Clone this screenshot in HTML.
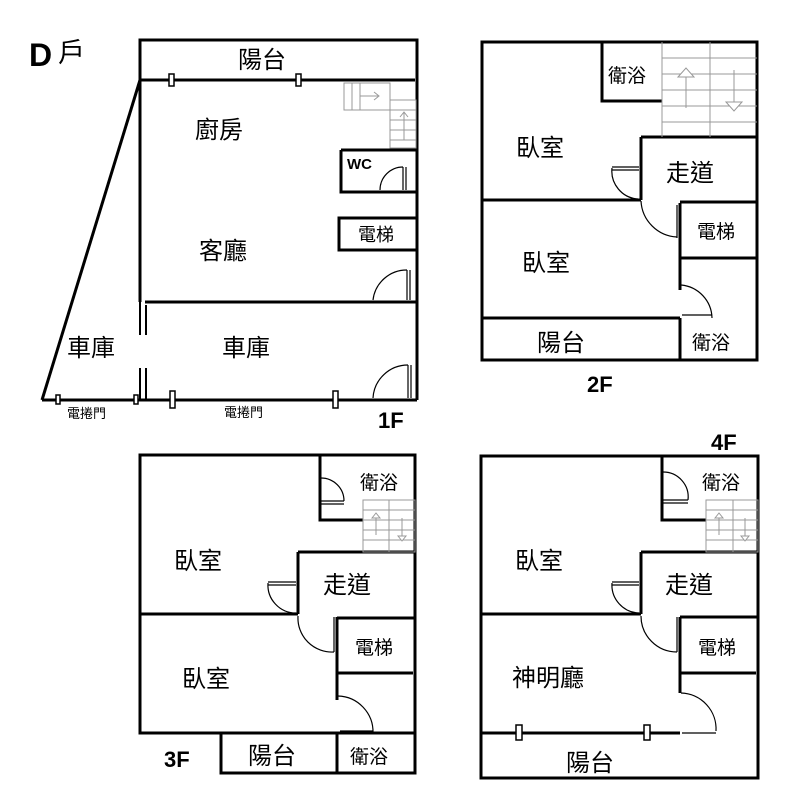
<!DOCTYPE html>
<html><head><meta charset="utf-8"><style>
body{margin:0;background:#fff}
svg text{font-family:"Liberation Sans","Noto Sans CJK TC",sans-serif;fill:#000}
.c{font-size:24px}
</style></head><body>
<svg width="800" height="800" viewBox="0 0 800 800" xmlns="http://www.w3.org/2000/svg">
<rect width="800" height="800" fill="#fff"/>
<g stroke="#000" stroke-width="3" fill="none">
<polyline points="140,80 140,40 417,40 417,400"/>
<line x1="140" y1="80" x2="415" y2="80"/>
<line x1="140" y1="80" x2="42" y2="400"/>
<line x1="42" y1="400" x2="417" y2="400"/>
<line x1="140" y1="80" x2="140" y2="302"/>
<line x1="145" y1="302" x2="417" y2="302"/>
<line x1="140" y1="302" x2="140" y2="335" stroke-width="2"/>
<line x1="146" y1="305" x2="146" y2="335" stroke-width="2"/>
<line x1="140" y1="368" x2="140" y2="400" stroke-width="2"/>
<line x1="146" y1="368" x2="146" y2="400" stroke-width="2"/>
<polyline points="341,150 341,192 417,192"/>
<line x1="341" y1="150" x2="417" y2="150"/>
<polyline points="417,218 339,218 339,250 417,250"/>
</g>
<g stroke="#000" stroke-width="1.5" fill="#fff">
<rect x="169" y="74" width="5" height="12"/><rect x="296" y="74" width="5" height="12"/>
<rect x="56" y="395" width="4" height="9"/><rect x="134" y="395" width="4" height="9"/>
<rect x="170" y="391" width="5" height="17"/><rect x="333" y="391" width="5" height="17"/>
</g>
<g stroke="#999" stroke-width="1" fill="none">
<rect x="344" y="83" width="46" height="27"/><line x1="352" y1="83" x2="352" y2="110"/><line x1="360" y1="83" x2="360" y2="110"/>
<line x1="360" y1="96" x2="378" y2="96"/><polyline points="374,92 379,96 374,100"/>
<rect x="390" y="100" width="26" height="48"/><line x1="390" y1="110" x2="416" y2="110"/><line x1="390" y1="120" x2="416" y2="120"/><line x1="390" y1="130" x2="416" y2="130"/><line x1="390" y1="140" x2="416" y2="140"/>
<line x1="404" y1="112" x2="404" y2="140"/><polyline points="400,117 404,112 408,117"/>
</g>
<g stroke="#000" stroke-width="1.2" fill="none">
<path d="M380,190 A23,23 0 0 1 403,167"/><line x1="403" y1="167" x2="403" y2="190"/><line x1="406" y1="167" x2="406" y2="190"/>
<path d="M373,300 A34,34 0 0 1 407,270"/><line x1="407" y1="270" x2="407" y2="300"/><line x1="410" y1="270" x2="410" y2="300"/>
<path d="M373,398 A35,35 0 0 1 408,365"/><line x1="408" y1="365" x2="408" y2="398"/><line x1="411" y1="365" x2="411" y2="398"/>
</g>
<g stroke="#000" stroke-width="3" fill="none">
<rect x="482" y="42" width="275" height="318"/>
<polyline points="602,42 602,101 662,101"/>
<line x1="641" y1="137" x2="757" y2="137"/>
<line x1="641" y1="137" x2="641" y2="200"/>
<line x1="482" y1="200" x2="641" y2="200"/>
<line x1="680" y1="203" x2="680" y2="290"/>
<line x1="680" y1="318" x2="680" y2="360"/>
<line x1="680" y1="202" x2="757" y2="202"/>
<line x1="680" y1="258" x2="757" y2="258"/>
<line x1="482" y1="318" x2="680" y2="318"/>
</g>
<g stroke="#999" stroke-width="1" fill="none">
<line x1="662" y1="42" x2="662" y2="137"/><line x1="710" y1="42" x2="710" y2="137"/>
<line x1="662" y1="58" x2="757" y2="58"/><line x1="662" y1="74" x2="757" y2="74"/><line x1="662" y1="90" x2="757" y2="90"/><line x1="662" y1="106" x2="757" y2="106"/><line x1="662" y1="122" x2="757" y2="122"/>
<line x1="686" y1="75" x2="686" y2="108"/><polygon points="678,77 686,68 694,77" fill="#fff"/>
<line x1="734" y1="70" x2="734" y2="104"/><polygon points="726,102 734,111 742,102" fill="#fff"/>
</g>
<g stroke="#000" stroke-width="1.2" fill="none">
<line x1="612" y1="167" x2="639" y2="167"/><line x1="612" y1="170" x2="639" y2="170"/><path d="M612,168 A28,28 0 0 0 638,199"/>
<path d="M641,201 A38,38 0 0 0 677,237"/><line x1="677" y1="205" x2="677" y2="238"/>
<path d="M681,285 A34,34 0 0 1 712,318"/><line x1="682" y1="315" x2="712" y2="315"/>
</g>
<g stroke="#000" stroke-width="3" fill="none">
<rect x="140" y="455" width="275" height="278"/>
<polyline points="221,733 221,773 415,773 415,733"/>
<line x1="337" y1="733" x2="337" y2="773"/>
<polyline points="320,455 320,520 363,520"/>
<line x1="298" y1="552" x2="415" y2="552"/>
<line x1="298" y1="552" x2="298" y2="614"/>
<line x1="140" y1="614" x2="298" y2="614"/>
<line x1="337" y1="617" x2="337" y2="700"/>
<line x1="337" y1="618" x2="415" y2="618"/>
<line x1="337" y1="673" x2="413" y2="673"/>
</g>
<g stroke="#999" stroke-width="1" fill="none">
<rect x="363" y="500" width="52" height="52"/><line x1="389" y1="500" x2="389" y2="552"/>
<line x1="363" y1="510" x2="415" y2="510"/><line x1="363" y1="520" x2="415" y2="520"/><line x1="363" y1="530" x2="415" y2="530"/><line x1="363" y1="540" x2="415" y2="540"/>
<line x1="376" y1="515" x2="376" y2="535"/><polygon points="372,518 376,513 380,518" fill="#fff"/>
<line x1="402" y1="518" x2="402" y2="538"/><polygon points="398,536 402,541 406,536" fill="#fff"/>
</g>
<g stroke="#000" stroke-width="1.2" fill="none">
<path d="M321,478 A23,23 0 0 1 344,501"/><line x1="321" y1="501" x2="344" y2="501"/><line x1="321" y1="504" x2="344" y2="504"/>
<line x1="268" y1="582" x2="296" y2="582"/><line x1="268" y1="585" x2="296" y2="585"/><path d="M268,583 A28,28 0 0 0 296,613"/>
<path d="M298,616 A34,34 0 0 0 334,652"/><line x1="334" y1="617" x2="334" y2="652"/>
<path d="M338,696 A36,36 0 0 1 373,733"/><line x1="340" y1="731" x2="373" y2="731"/>
</g>
<g stroke="#000" stroke-width="3" fill="none">
<rect x="481" y="456" width="277" height="322"/>
<polyline points="662,456 662,520 706,520"/>
<line x1="641" y1="552" x2="758" y2="552"/>
<line x1="641" y1="552" x2="641" y2="614"/>
<line x1="481" y1="614" x2="641" y2="614"/>
<line x1="680" y1="617" x2="680" y2="693"/>
<line x1="680" y1="617" x2="758" y2="617"/>
<line x1="680" y1="673" x2="756" y2="673"/>
<line x1="481" y1="733" x2="680" y2="733"/>
</g>
<g stroke="#999" stroke-width="1" fill="none">
<rect x="706" y="500" width="52" height="52"/><line x1="733" y1="500" x2="733" y2="552"/>
<line x1="706" y1="510" x2="758" y2="510"/><line x1="706" y1="520" x2="758" y2="520"/><line x1="706" y1="530" x2="758" y2="530"/><line x1="706" y1="540" x2="758" y2="540"/>
<line x1="719" y1="515" x2="719" y2="535"/><polygon points="715,518 719,513 723,518" fill="#fff"/>
<line x1="745" y1="518" x2="745" y2="538"/><polygon points="741,536 745,541 749,536" fill="#fff"/>
</g>
<g stroke="#000" stroke-width="1.2" fill="none">
<path d="M663,472 A25,25 0 0 1 688,500"/><line x1="663" y1="500" x2="688" y2="500"/><line x1="663" y1="503" x2="688" y2="503"/>
<line x1="612" y1="582" x2="639" y2="582"/><line x1="612" y1="585" x2="639" y2="585"/><path d="M612,583 A28,28 0 0 0 639,613"/>
<path d="M641,616 A36,36 0 0 0 677,652"/><line x1="677" y1="617" x2="677" y2="652"/>
<path d="M681,693 A36,36 0 0 1 716,731"/><line x1="682" y1="733" x2="716" y2="733"/>
</g>
<g stroke="#000" stroke-width="1.5" fill="#fff">
<rect x="516" y="725" width="6" height="15"/><rect x="644" y="725" width="6" height="15"/>
</g>
<text x="29" y="66" font-size="32" font-weight="bold">D</text><text x="58" y="62" font-size="27">戶</text>
<text class="c" x="238" y="68">陽台</text>
<text class="c" x="195" y="138">廚房</text>
<text class="c" x="199" y="259">客廳</text>
<text x="347" y="169" font-size="15" font-weight="bold">WC</text>
<text x="358" y="241" font-size="18">電梯</text>
<text class="c" x="67" y="356">車庫</text>
<text class="c" x="222" y="356">車庫</text>
<text x="67" y="418" font-size="13">電捲門</text>
<text x="224" y="417" font-size="13">電捲門</text>
<text x="378" y="428" font-size="22" font-weight="bold">1F</text>
<text x="608" y="82" font-size="19">衛浴</text>
<text class="c" x="516" y="156">臥室</text>
<text class="c" x="666" y="181">走道</text>
<text x="697" y="238" font-size="19">電梯</text>
<text class="c" x="522" y="271">臥室</text>
<text class="c" x="537" y="351">陽台</text>
<text x="692" y="349" font-size="19">衛浴</text>
<text x="587" y="392" font-size="22" font-weight="bold">2F</text>
<text x="360" y="489" font-size="19">衛浴</text>
<text class="c" x="174" y="569">臥室</text>
<text class="c" x="323" y="593">走道</text>
<text x="355" y="654" font-size="19">電梯</text>
<text class="c" x="182" y="687">臥室</text>
<text class="c" x="248" y="764">陽台</text>
<text x="350" y="763" font-size="19">衛浴</text>
<text x="164" y="767" font-size="22" font-weight="bold">3F</text>
<text x="711" y="450" font-size="22" font-weight="bold">4F</text>
<text x="702" y="489" font-size="19">衛浴</text>
<text class="c" x="515" y="569">臥室</text>
<text class="c" x="665" y="593">走道</text>
<text x="698" y="654" font-size="19">電梯</text>
<text class="c" x="512" y="686">神明廳</text>
<text class="c" x="566" y="771">陽台</text>
</svg>
</body></html>
